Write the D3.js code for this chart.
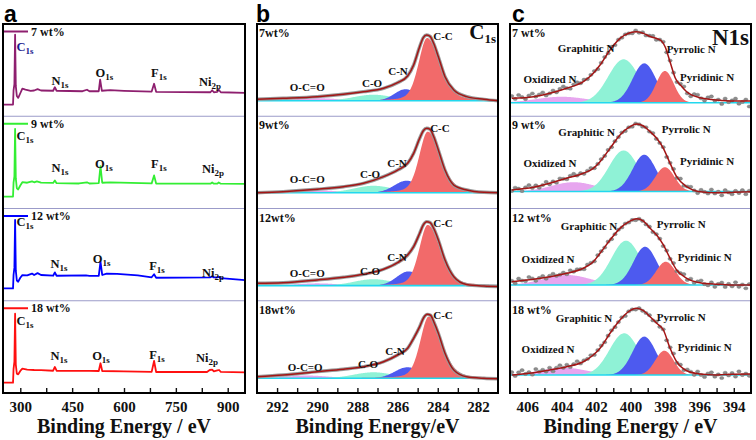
<!DOCTYPE html>
<html>
<head>
<meta charset="utf-8">
<script src="https://cdn.jsdelivr.net/npm/d3@7/dist/d3.min.js"></script>
<style>
  body { margin: 0; background: #fff; }
  text { font-family: "Liberation Serif", "Times New Roman", serif; font-weight: bold; fill: #111; }
  .letter { font-family: "Liberation Sans", Arial, sans-serif; font-size: 23px; fill: #000; }
</style>
</head>
<body>
<svg id="fig" width="756" height="440"></svg>
<script>
// ---- values ----
const samples = ['7 wt%', '9 wt%', '12 wt%', '18 wt%']
const samplesB = ['7wt%', '9wt%', '12wt%', '18wt%']
const surveyColors = ['#8e1f6f', '#33ee33', '#0000ff', '#ff1010']
const surveyTicks = [300, 450, 600, 750, 900]
const c1sTicks = [292, 290, 288, 286, 284, 282]
const n1sTicks = [406, 404, 402, 400, 398, 396, 394]

// survey spectra: [binding energy (eV), intensity (a.u.)]
const survey7 = [[250,12.7],[279,12.7],[280.5,28],[283,35],[285,88.6],[287,33],[290,22],[294,20],[300,25],[306,30],[315,29],[330,27.5],[340,28],[350,29.5],[360,28],[395,27.7],[400,31.5],[405,27.7],[480,27.2],[493,28.8],[500,27.2],[527,27.2],[531,39.7],[536,27.7],[560,28.3],[600,27.6],[680,26.8],[687,35.3],[693,26.6],[850,26.1],[855,28.3],[860,26.1],[870,26.5],[874,28.8],[880,26.1],[950,25.3]]
const survey9 = [[250,13],[279,13],[280.5,28],[283,35],[285,86.6],[287,33],[290,22],[294,20.7],[300,25],[306,28.6],[320,28],[334,29.5],[340,28.5],[348,29.5],[360,28.2],[395,27.8],[400,30.4],[405,27.5],[470,27.2],[493,28.5],[500,27.2],[527,27.5],[532,46],[537,28],[560,28.3],[680,27.3],[687,35.9],[693,27.2],[850,27],[855,28.3],[860,27],[870,27],[874,28.3],[880,27],[950,26.8]]
const survey12 = [[250,13.4],[279,13.4],[280.5,28],[283,36],[285,88],[287,33],[290,22],[294,20.7],[300,25],[306,27.9],[320,27.5],[334,29.5],[340,28],[350,30],[360,28],[395,27.2],[400,30.8],[405,27.2],[490,27.5],[500,27],[527,27],[532,42.4],[537,28],[550,29.5],[580,29.3],[640,27.5],[680,25.5],[687,28.8],[693,25],[850,25.5],[855,26.5],[860,25.3],[870,25.3],[874,26],[880,24.5],[950,22.5]]
const survey18 = [[250,11.2],[279,11.2],[280.5,26],[283,34],[285,86.2],[287,31],[290,21],[294,20.3],[300,24],[306,26.4],[320,25.5],[340,25],[360,24.8],[395,24.2],[400,28.3],[405,24.2],[500,24],[527,23.9],[532,32.3],[537,23.9],[600,23.5],[680,23],[687,34.8],[693,22.8],[840,22.8],[848,25],[855,25.5],[860,23.5],[870,24.5],[875,25],[880,23],[950,22.5]]
const surveys = [survey7, survey9, survey12, survey18]

const surveyLabels = [['C','1s'],['N','1s'],['O','1s'],['F','1s'],['Ni','2p']]
const surveyLabelE = [[313.6,415,543,701,849],[313.6,415,542,701,857.5],[313.6,412,535,695.5,857.5],[313.6,412,533.5,695.5,840]]
const surveyLabelV = [[75.3,39.1,47.1,47.1,37.3],[79.3,44.9,49.2,48.6,43.8],[85.9,39.9,45.3,38,30.8],[78.3,40.2,40.2,42.1,38.4]]

// C1s fits per sample: [centre eV, height, FWHM]; C-C: [centre, height, FWHM high-BE side, FWHM low-BE side]
const c1sBase = [16.9, 17.2, 16.4, 16]
const ccPeaks = [[284.53,68.2,1.0,1.5],[284.5,66.3,1.0,1.5],[284.5,66,1.0,1.5],[284.45,67,1.0,1.5]]
const cnPeaks = [[285.6,12.5,1.3],[285.55,13,1.45],[285.45,15.5,1.4],[285.5,12,1.5]]
const coPeaks = [[287.2,6.5,2.3],[287.2,7.5,2.3],[287.2,7,2.3],[287.2,6.5,2.3]]
const ocoPeaks = [[290.0,2.7,2.5],[290.0,2.5,2.5],[290.0,2.5,2.5],[290.5,3,2.5]]
const c1sEnv7 = [[293,18.4],[291.7,19.5],[290,21.3],[288.7,23.9],[287.7,26.7],[286.7,30.4],[286,36.5],[285.5,43.8],[285.2,55.7],[284.9,75.6],[284.72,85.5],[284.55,88.3],[284.38,86.8],[284.2,79],[283.97,64.7],[283.64,43],[283.2,28.5],[282.56,21.3],[281.7,18.4],[281,16.9]]
const c1sEnv9 = [[293,17.2],[291.7,18.3],[290,20.9],[288.7,23.7],[287.7,27.4],[286.7,34.6],[286,41.8],[285.5,49.1],[285.2,60],[284.9,76.3],[284.72,84.5],[284.55,87.2],[284.38,86],[284.2,78],[283.97,63.6],[283.64,41.8],[283.2,25.5],[282.56,20.1],[281.7,17.6],[281,17.2]]
const c1sEnv12 = [[293,19],[291.7,19.6],[290,22.6],[288.7,25.5],[287.7,28.7],[286.7,34.2],[286,41.4],[285.5,49.7],[285.2,58.8],[284.9,73.3],[284.72,82.5],[284.55,86],[284.38,85],[284.2,78.5],[283.97,66],[283.64,44.3],[283.2,26.1],[282.56,17.6],[281.7,16],[281,15.5]]
const c1sEnv18 = [[293,17.7],[291.7,19.6],[290,23.2],[288.7,25.8],[287.7,28.6],[286.7,34],[286,41.3],[285.5,48.6],[285.2,59.5],[284.9,72.1],[284.7,82],[284.52,85.5],[284.36,84.5],[284.2,77.5],[283.97,64.9],[283.64,43.2],[283.2,25],[282.56,17.6],[281.7,16],[281,15.5]]
const c1sEnvelopes = [c1sEnv7, c1sEnv9, c1sEnv12, c1sEnv18]
const c1sNames = ['O-C=O', 'C-O', 'C-N', 'C-C']
const c1sLabelE = [[290.5,287.27,285.98,283.74],[290.5,287.37,286.03,283.89],[290.5,287.37,286.03,283.74],[290.6,287.47,286.13,283.74]]
const c1sLabelV = [[31.8,36.1,49.2,87.2],[32.1,37.2,49.5,87.5],[30.2,32.7,47.6,84.5],[28.6,31.5,46,84.8]]

// N1s fits: [centre eV, height, FWHM] per sample
const n1sBase = [14.7, 18.5, 17.1, 19.5]
const pyridinic = [[398.0,34.5,1.2],[398.0,26.4,1.3],[397.95,25.3,1.3],[398.03,26.5,1.25]]
const pyrrolic = [[399.2,42.8,1.6],[399.2,39.9,1.6],[399.15,41.6,1.6],[399.2,41.8,1.6]]
const graphitic = [[400.4,47.2,2.1],[400.4,44.6,2.0],[400.26,48.2,2.0],[400.37,45.4,2.0]]
const oxidized = [[404.0,6.5,3.5],[403.3,10.1,3.0],[403.7,10.9,3.2],[403.9,8,3.2]]
const n1sEnv7 = [[406.9,19.5],[405.64,21.3],[404.68,24.9],[403.71,30.4],[402.74,37.6],[402.16,46.7],[401.77,55.7],[401.19,72],[400.61,84.7],[400.03,90.8],[399.64,91.9],[399.25,90.1],[398.86,86.7],[398.48,84.5],[398.2,81.8],[397.99,75.6],[397.7,59],[397.4,41.6],[397,31.8],[396.74,26.7],[395.96,20.2],[394.99,17.7],[394.02,16.6],[393,16.6]]
const n1sEnv9 = [[406.9,20.1],[405.64,23],[404.68,27.4],[403.71,32.8],[402.74,38.3],[402.16,43.7],[401.77,50.9],[401.19,65.4],[400.61,79.9],[400.03,88.9],[399.64,91.8],[399.25,89.7],[398.86,83.5],[398.48,76.3],[398.09,65.4],[397.7,49.1],[397.32,34.6],[396.74,23.7],[395.96,18.3],[394.99,17.2],[394.02,17.6],[393,18.3]]
const n1sEnv12 = [[406.9,20.7],[405.64,23.3],[404.68,26.1],[403.71,29.8],[402.74,35.3],[402.16,42.4],[401.77,51.6],[401.19,66],[400.61,78.7],[400.03,86.5],[399.64,89],[399.25,86.5],[398.86,78.7],[398.48,71.5],[398.09,60.6],[397.7,46.1],[397.32,33.4],[396.74,24.4],[395.96,19.6],[394.99,17.9],[394.02,17.1],[393,17.1]]
const n1sEnv18 = [[406.9,19.6],[405.64,22.1],[404.68,25],[403.71,28.6],[402.74,34],[402.16,41.3],[401.77,48.6],[401.19,64.9],[400.61,79.3],[400.03,89.5],[399.64,92.1],[399.25,89.5],[398.86,82.9],[398.48,75.8],[398.09,68.5],[397.7,48.6],[397.32,34],[396.74,24.2],[395.96,20.7],[394.99,19.6],[394.02,20.3],[393,20.7]]
const n1sEnvelopes = [n1sEnv7, n1sEnv9, n1sEnv12, n1sEnv18]
// scatter of the raw points about the fit, every 0.2 eV from 406.9 eV
const n1sNoise7 = [2.5,-1,3,0.5,-2,1.5,3.5,-0.5,1,2.5,-1.5,0,2,-1,1.5,3,0,-2,1,2,-0.5,1.5,-1,0.5,1,-1.5,0.5,1,-0.5,1.5,-1,0.5,-0.5,1,0,-1,1.5,-0.5,1,-1,0.5,1.5,-1.5,0.5,2,-1,1.5,0,-2,1,2.5,-1.5,-3,1,2,-0.5,-2.5,1.5,3,-1,0.5,-4,2,-1.5,0.5,2.5,-3,-1,1.5,-6]
const n1sNoise9 = [-1,2,0.5,-2.5,1,3,-0.5,1.5,-2,0,2.5,-1,1,-1.5,2,0.5,-1,1.5,2.5,-0.5,1,-1,0.5,1.5,-1,0,1,-0.5,1,-1,0.5,0,1,-0.5,0.5,-1,1,0.5,-1,1,-0.5,1.5,-1,0,1,-1.5,0.5,1.5,-1,2,-2,0.5,1.5,-1,-2.5,2,0,-1.5,3,-1,1,-3,2.5,0,-2,1.5,-1,2,-2.5,1]
const n1sNoise12 = [1,-2,2.5,0,-1,3,1,-2,0.5,2,-1.5,1,2.5,-0.5,0,1.5,-1,2,-0.5,1,0,-1.5,1,0.5,-1,1,0.5,-0.5,1,-1,0,0.5,-0.5,1,-0.5,0.5,-1,1,0,-0.5,1,-1,0.5,1,-1.5,1,-0.5,1.5,-1,0,2,-1.5,1,-2,0.5,2.5,-1,-2,1.5,-3,0.5,2,-2.5,1,-1.5,3,-2,0.5,-3.5,1]
const n1sNoise18 = [3,-1.5,2,4,-0.5,1,-2,3.5,0,1.5,-1,2.5,-2,1,3,-0.5,2,-1.5,0.5,2.5,-1,1,0,1.5,-1,0.5,1,-1,0.5,1,-0.5,0,1,-1,0.5,0.5,-1,1,-0.5,0,1,-1,1.5,-0.5,0.5,-1.5,1,2,-1,0.5,-2,1.5,0,-2.5,2,-1,-3,1,2.5,-2,0.5,-3.5,2,-1,1.5,-2.5,3,-1,0.5,-2]
const n1sNoise = [n1sNoise7, n1sNoise9, n1sNoise12, n1sNoise18]
const n1sNames = ['Graphitic N', 'Pyrrolic N', 'Oxidized N', 'Pyridinic N']
const n1sLabelE = [[402.58,397.9,404.68,397.12],[402.55,398.19,404.68,397.12],[402.41,398.48,404.79,397.26],[402.7,398.48,404.79,397.26]]
const n1sLabelV = [[74.5,73.1,40.2,42.3],[83.5,86.1,49.1,51.6],[81.3,83.4,45.1,47.9],[81.2,82.9,47.5,49.7]]

// ---- layout ----
const svg = d3.select('#fig')
const frameTop = 24, frameBottom = 393, subH = (frameBottom - frameTop) / 4
const xA = d3.scaleLinear().domain([250, 950]).range([3, 245])
const xB = d3.scaleLinear().domain([293, 281]).range([257, 498])
const xC = d3.scaleLinear().domain([407, 393]).range([510, 751])
const subTop = i => frameTop + i * subH
const yFor = i => d3.scaleLinear().domain([0, 100]).range([subTop(i + 1), subTop(i + 1) - 92])

const gauss = (e, [c, h, w]) => h * Math.exp(-4 * Math.LN2 * ((e - c) / w) ** 2)
// pseudo-Voigt with a different width each side of the centre
function asymVoigt(e, [c, h, wHi, wLo], eta) {
    const u = (e - c) / (e > c ? wHi : wLo)
    return h * ((1 - eta) * Math.exp(-4 * Math.LN2 * u * u) + eta / (1 + 4 * u * u))
}

function envAt(pts, e) {
    for (let k = 1; k < pts.length; k++) {
        if (e >= pts[k][0]) {
            const [e0, v0] = pts[k - 1], [e1, v1] = pts[k]
            return v0 + (v1 - v0) * (e - e0) / (e1 - e0)
        }
    }
    return pts[pts.length - 1][1]
}

function addClip(id, x) {
    svg.append('clipPath').attr('id', id).append('rect')
        .attr('x', x.range()[0]).attr('y', frameTop)
        .attr('width', x.range()[1] - x.range()[0])
        .attr('height', frameBottom - frameTop)
    return svg.append('g').attr('clip-path', `url(#${id})`)
}

function separators(x) {
    for (let i = 1; i < 4; i++) {
        svg.append('line')
            .attr('x1', x.range()[0]).attr('x2', x.range()[1])
            .attr('y1', subTop(i)).attr('y2', subTop(i))
            .attr('stroke', '#9b9bc9').attr('stroke-width', 1.2)
    }
}

function frame(x) {
    svg.append('rect')
        .attr('x', x.range()[0]).attr('y', frameTop)
        .attr('width', x.range()[1] - x.range()[0]).attr('height', frameBottom - frameTop)
        .attr('fill', 'none').attr('stroke', '#000').attr('stroke-width', 2)
}

function bottomAxis(x, vals, labels, title) {
    const ax = d3.axisBottom(x).tickValues(vals)
        .tickSizeInner(-5).tickSizeOuter(0).tickPadding(8)
        .tickFormat(d => labels.includes(d) ? d : '')
    const g = svg.append('g')
        .attr('transform', `translate(0,${frameBottom})`)
        .call(ax)
    g.select('.domain').remove()
    g.selectAll('.tick line').attr('stroke', '#111').attr('stroke-width', 1.4)
    g.selectAll('.tick text').attr('font-size', 15)
    svg.append('text')
        .attr('x', (x.range()[0] + x.range()[1]) / 2)
        .attr('y', 433)
        .attr('text-anchor', 'middle')
        .attr('font-size', 20)
        .text(title)
}

// ---- a: survey spectra ----
const gA = addClip('clipA', xA)
separators(xA)
surveys.forEach((s, i) => {
    const y = yFor(i)
    gA.append('path').datum(s)
        .attr('fill', 'none')
        .attr('stroke', surveyColors[i])
        .attr('stroke-width', 1.8)
        .attr('stroke-linejoin', 'round')
        .attr('d', d3.line().x(d => xA(d[0])).y(d => y(d[1])))

    gA.append('line')
        .attr('x1', xA.range()[0]).attr('x2', xA.range()[0] + 25)
        .attr('y1', subTop(i) + 7.5).attr('y2', subTop(i) + 7.5)
        .attr('stroke', surveyColors[i]).attr('stroke-width', 2)
    gA.append('text')
        .attr('x', xA.range()[0] + 28).attr('y', subTop(i) + 7.5).attr('dy', '0.35em')
        .attr('font-size', 12)
        .text(samples[i])

    surveyLabels.forEach((lab, j) => {
        const t = gA.append('text')
            .attr('x', xA(surveyLabelE[i][j]))
            .attr('y', y(surveyLabelV[i][j]))
            .attr('dy', '0.35em')
            .attr('text-anchor', 'middle')
            .attr('font-size', 12.5)
            .style('fill', i === 0 && j === 0 ? '#1a1a90' : '#111')
        t.append('tspan').text(lab[0])
        t.append('tspan').attr('dy', 3).attr('font-size', 9).text(lab[1])
    })
})
bottomAxis(xA, d3.range(300, 901, 75), surveyTicks, 'Binding Energy / eV')
frame(xA)

// ---- b: C1s ----
const gB = addClip('clipB', xB)
separators(xB)
const c1sComps = [ocoPeaks, coPeaks, cnPeaks, ccPeaks]
const compFills = ['#e7a6ef', '#8ff2d6', '#4d5aef', '#f26a6a']
const gridB = d3.range(293.2, 280.8, -0.03)
c1sEnvelopes.forEach((env, i) => {
    const y = yFor(i), base = c1sBase[i]
    c1sComps.forEach((comp, k) => {
        const p = comp[i]
        const f = k === 3 ? (e => asymVoigt(e, p, 0.3)) : (e => gauss(e, p))
        gB.append('path').datum(gridB)
            .attr('fill', compFills[k])
            .attr('d', d3.area().x(e => xB(e)).y0(y(base)).y1(e => y(base + f(e))))
    })
    gB.append('line')
        .attr('x1', xB.range()[0]).attr('x2', xB.range()[1])
        .attr('y1', y(base)).attr('y2', y(base))
        .attr('stroke', '#22d8ee').attr('stroke-width', 1.6)
    const line = d3.line().curve(d3.curveMonotoneX).x(d => xB(d[0])).y(d => y(d[1]))
    gB.append('path').datum(env)
        .attr('fill', 'none').attr('stroke', '#9a9a9a').attr('stroke-width', 3.4)
        .attr('d', line)
    gB.append('path').datum(env)
        .attr('fill', 'none').attr('stroke', '#a31515').attr('stroke-width', 1.5)
        .attr('d', line)

    gB.append('text')
        .attr('x', xB.range()[0] + 2).attr('y', subTop(i) + 9).attr('dy', '0.35em')
        .attr('font-size', 12).text(samplesB[i])
    c1sNames.forEach((nm, j) => {
        gB.append('text')
            .attr('x', xB(c1sLabelE[i][j])).attr('y', y(c1sLabelV[i][j])).attr('dy', '0.35em')
            .attr('text-anchor', 'middle').attr('font-size', 11)
            .text(nm)
    })
})
const c1sTitle = svg.append('text')
    .attr('x', xB.range()[1] - 2).attr('y', 39)
    .attr('text-anchor', 'end').attr('font-size', 21)
c1sTitle.append('tspan').text('C')
c1sTitle.append('tspan').attr('dy', 4).attr('font-size', 13).text('1s')
bottomAxis(xB, d3.range(282, 293, 1), c1sTicks, 'Binding Energy/eV')
frame(xB)

// ---- c: N1s ----
const gC = addClip('clipC', xC)
separators(xC)
const n1sComps = [oxidized, graphitic, pyrrolic, pyridinic]
const gridC = d3.range(407.2, 392.8, -0.04)
n1sEnvelopes.forEach((env, i) => {
    const y = yFor(i), base = n1sBase[i]
    n1sComps.forEach((comp, k) => {
        const p = comp[i]
        gC.append('path').datum(gridC)
            .attr('fill', compFills[k])
            .attr('d', d3.area().x(e => xC(e)).y0(y(base)).y1(e => y(base + gauss(e, p))))
    })
    gC.append('line')
        .attr('x1', xC.range()[0]).attr('x2', xC.range()[1])
        .attr('y1', y(base)).attr('y2', y(base))
        .attr('stroke', '#22d8ee').attr('stroke-width', 1.6)

    const pts = n1sNoise[i].map((n, j) => [406.9 - j * 0.2, n]).filter(d => d[0] >= 393)
    gC.append('g').selectAll('ellipse')
        .data(pts)
        .join('ellipse')
        .attr('cx', d => xC(d[0]))
        .attr('cy', d => y(envAt(env, d[0]) + d[1]))
        .attr('rx', 2.1).attr('ry', 1.6)
        .attr('fill', '#8d8d8d').attr('stroke', '#6a6a6a').attr('stroke-width', 0.4)

    gC.append('path').datum(env)
        .attr('fill', 'none').attr('stroke', '#a31515').attr('stroke-width', 1.5)
        .attr('d', d3.line().curve(d3.curveMonotoneX).x(d => xC(d[0])).y(d => y(d[1])))

    gC.append('text')
        .attr('x', xC.range()[0] + 2).attr('y', subTop(i) + 9).attr('dy', '0.35em')
        .attr('font-size', 12).text(samples[i])
    n1sNames.forEach((nm, j) => {
        gC.append('text')
            .attr('x', xC(n1sLabelE[i][j])).attr('y', y(n1sLabelV[i][j])).attr('dy', '0.35em')
            .attr('text-anchor', j % 2 === 0 ? 'middle' : 'start').attr('font-size', 11)
            .text(nm)
    })
})
svg.append('text')
    .attr('x', xC.range()[1] - 2).attr('y', 45)
    .attr('text-anchor', 'end').attr('font-size', 23)
    .text('N1s')
bottomAxis(xC, d3.range(394, 407, 1), n1sTicks, 'Binding Energy / eV')
frame(xC)

// panel letters
svg.append('text').attr('class', 'letter').attr('x', 4).attr('y', 22).text('a')
svg.append('text').attr('class', 'letter').attr('x', 256).attr('y', 22).text('b')
svg.append('text').attr('class', 'letter').attr('x', 512).attr('y', 22).text('c')
</script>
</body>
</html>
